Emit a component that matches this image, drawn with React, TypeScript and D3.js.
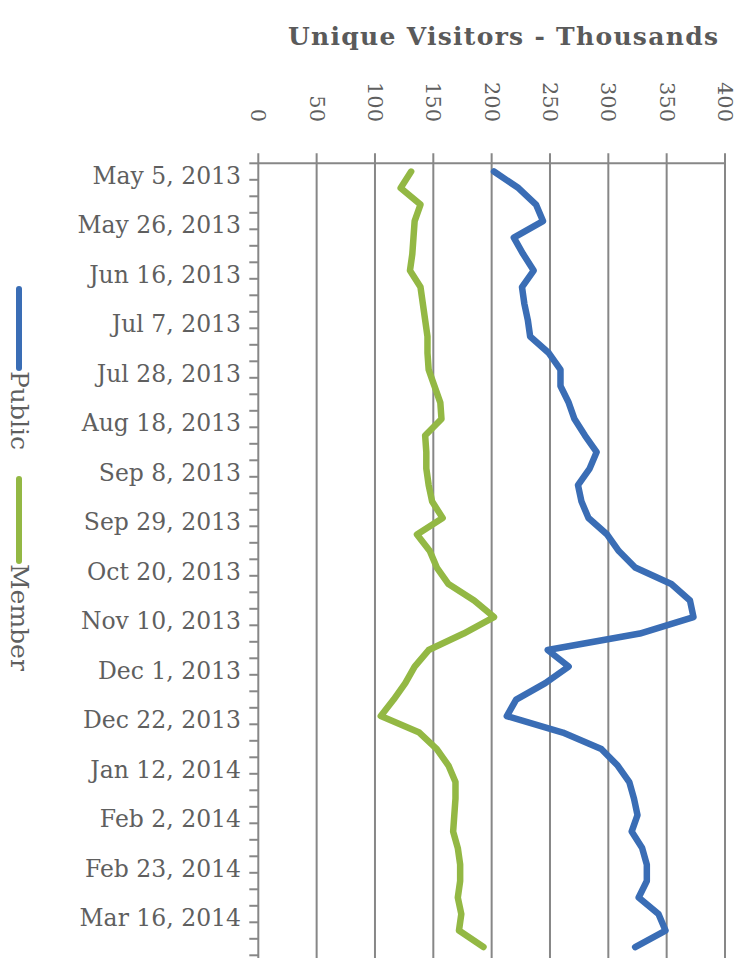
import React from "react";
import * as d3 from "d3";

const TITLE = "Unique Visitors - Thousands";
const seriesNames = ["Public", "Member"];
const seriesColors = ["#3a6db5", "#93b844"];

// Weekly unique visitors (thousands), week starting Sunday May 5, 2013 .. Mar 30, 2014
const publicValues = [
  202, 223, 238, 244, 219, 227, 236, 226, 228, 231, 233, 249,
  259, 259, 266, 271, 280, 290, 284, 274, 277, 283, 299, 309,
  323, 354, 370, 373, 327, 248, 266, 246, 221, 213, 261, 294,
  308, 318, 322, 325, 320, 329, 333, 333, 326, 343, 349, 323,
];
const memberValues = [
  131, 122, 139, 134, 133, 132, 130, 139, 141, 143, 145, 145,
  146, 151, 156, 157, 143, 144, 144, 146, 149, 158, 136, 147,
  153, 163, 185, 202, 176, 146, 134, 126, 116, 105, 138, 153,
  163, 169, 169, 168, 167, 171, 173, 173, 171, 174, 172, 193,
];

const weekStarts = d3.timeWeek.range(new Date(2013, 4, 5), new Date(2014, 2, 31));

const dateTickLabels = [
  "May 5, 2013", "May 26, 2013", "Jun 16, 2013", "Jul 7, 2013",
  "Jul 28, 2013", "Aug 18, 2013", "Sep 8, 2013", "Sep 29, 2013",
  "Oct 20, 2013", "Nov 10, 2013", "Dec 1, 2013", "Dec 22, 2013",
  "Jan 12, 2014", "Feb 2, 2014", "Feb 23, 2014", "Mar 16, 2014",
];
const valueTicks = [0, 50, 100, 150, 200, 250, 300, 350, 400];

const W = 749;
const H = 958;
const FONT = "'DejaVu Serif', 'Liberation Serif', serif";
const TEXT = "#5f5f5f";
const GRID = "#878787";

export default function App() {
  const x = d3.scaleLinear().domain([0, 400]).range([258.3, 725]);
  const y = d3
    .scaleBand<number>()
    .domain(d3.range(weekStarts.length))
    .range([163.3, 163.3 + 16.5 * weekStarts.length])
    .padding(0);
  const bw = y.bandwidth();
  const cy = (i: number) => (y(i) as number) + bw / 2;

  const line = d3
    .line<number>()
    .x((v) => x(v))
    .y((_, i) => cy(i));

  const series = [publicValues, memberValues];
  const edges = d3.range(weekStarts.length + 1).map((i) => 163.3 + i * bw);
  const axisY = y.range()[0];

  const legendMarkers = [
    { y0: 289, y1: 368 },
    { y0: 479, y1: 561 },
  ];

  return (
    <svg
      width={W}
      height={H}
      style={{ position: "absolute", left: 0, top: 0, background: "#fff" }}
      fontFamily={FONT}
    >
      {/* Title */}
      <text
        x={503}
        y={45}
        textAnchor="middle"
        fontSize={25}
        fontWeight="bold"
        fill="#5a5a5a"
        textLength={430}
        lengthAdjust="spacing"
      >
        {TITLE}
      </text>

      {/* Vertical gridlines + top ticks */}
      {valueTicks.map((v) => (
        <line
          key={"g" + v}
          x1={x(v)}
          x2={x(v)}
          y1={axisY - 10}
          y2={H + 2}
          stroke={GRID}
          strokeWidth={2}
        />
      ))}
      {/* Top value axis line */}
      <line x1={x(0)} x2={x(400)} y1={axisY} y2={axisY} stroke={GRID} strokeWidth={2} />

      {/* Value tick labels (rotated) */}
      {valueTicks.map((v) => (
        <text
          key={"t" + v}
          transform={`translate(${x(v)},122) rotate(90)`}
          textAnchor="end"
          dominantBaseline="central"
          fontSize={21}
          fill={TEXT}
        >
          {v}
        </text>
      ))}

      {/* Date axis ticks */}
      {edges.map((e, i) => (
        <line
          key={"dt" + i}
          x1={x(0) - 9}
          x2={x(0)}
          y1={e}
          y2={e}
          stroke={GRID}
          strokeWidth={2}
        />
      ))}

      {/* Date labels every 3 weeks */}
      {dateTickLabels.map((lab, j) => (
        <text
          key={"dl" + j}
          x={241}
          y={cy(j * 3) + 4}
          textAnchor="end"
          dominantBaseline="central"
          fontSize={23.5}
          fill={TEXT}
        >
          {lab}
        </text>
      ))}

      {/* Series lines */}
      {series.map((vals, s) => (
        <path
          key={"s" + s}
          d={line(vals) as string}
          fill="none"
          stroke={seriesColors[s]}
          strokeWidth={6.5}
          strokeLinejoin="round"
          strokeLinecap="round"
        />
      ))}

      {/* Legend (rotated) */}
      {seriesNames.map((name, s) => (
        <g key={"lg" + s}>
          <line
            x1={19}
            x2={19}
            y1={legendMarkers[s].y0}
            y2={legendMarkers[s].y1}
            stroke={seriesColors[s]}
            strokeWidth={6}
            strokeLinecap="round"
          />
          <text
            transform={`translate(19,${legendMarkers[s].y1 + 3}) rotate(90)`}
            textAnchor="start"
            dominantBaseline="central"
            fontSize={25}
            fill={TEXT}
          >
            {name}
          </text>
        </g>
      ))}
    </svg>
  );
}
